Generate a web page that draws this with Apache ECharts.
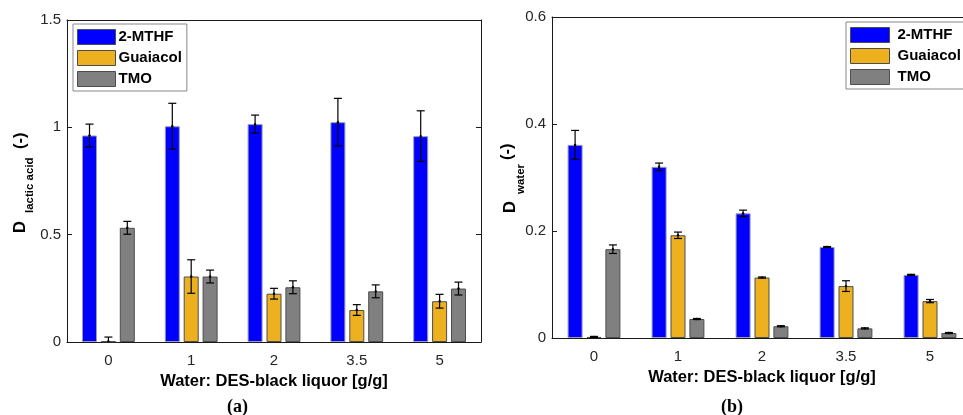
<!DOCTYPE html>
<html>
<head>
<meta charset="utf-8">
<script src="https://cdn.jsdelivr.net/npm/echarts@6/dist/echarts.min.js"></script>
<style>html,body{margin:0;padding:0;background:#fff}#c{width:963px;height:415px}</style>
</head>
<body>
<div id="c"></div>
<script>
const categories = ['0', '1', '2', '3.5', '5'];
const seriesNames = ['2-MTHF', 'Guaiacol', 'TMO'];

// (a) D lactic acid
const mthfA = [0.962, 1.005, 1.015, 1.024, 0.959];
const mthfAErr = [0.053, 0.107, 0.042, 0.111, 0.118];
const guaA = [0.003, 0.305, 0.225, 0.149, 0.190];
const guaAErr = [0.020, 0.078, 0.025, 0.025, 0.032];
const tmoA = [0.532, 0.305, 0.255, 0.236, 0.249];
const tmoAErr = [0.030, 0.030, 0.030, 0.030, 0.030];

// (b) D water
const mthfB = [0.361, 0.320, 0.233, 0.170, 0.118];
const mthfBErr = [0.027, 0.007, 0.006, 0.001, 0.001];
const guaB = [0.002, 0.192, 0.113, 0.097, 0.069];
const guaBErr = [0.001, 0.006, 0.001, 0.010, 0.003];
const tmoB = [0.166, 0.0355, 0.022, 0.018, 0.0093];
const tmoBErr = [0.008, 0.001, 0.001, 0.001, 0.001];

const yTicksA = {min: 0, max: 1.5, interval: 0.5};
const yTicksB = {min: 0, max: 0.6, interval: 0.2};

const colors = ['#0000ff', '#edb120', '#808080'];
const borders = ['#9a9ab4', '#4d4d4d', '#4d4d4d'];
const BAR_W = 15, BAR_GAP = 0.26;
const FONT = '"Liberation Sans", Arial, sans-serif';
const AX = '#1a1a1a';

function errData(vals, errs, k) {
  return vals.map((v, i) => [i, v, errs[i], k]);
}
function renderErr(params, api) {
  const i = api.value(0), v = api.value(1), e = api.value(2), k = api.value(3);
  const dx = (k - 1) * BAR_W * (1 + BAR_GAP);
  const t = api.coord([i, v + e]);
  const b = api.coord([i, v - e]);
  const c = api.coord([i, v]);
  const x = t[0] + dx, cap = 4;
  const st = {stroke: '#000', lineWidth: 1.2, fill: null};
  return {type: 'group', children: [
    {type: 'line', shape: {x1: x, y1: t[1], x2: x, y2: b[1]}, style: st},
    {type: 'line', shape: {x1: x - cap, y1: t[1], x2: x + cap, y2: t[1]}, style: st},
    {type: 'line', shape: {x1: x - cap, y1: b[1], x2: x + cap, y2: b[1]}, style: st},
    {type: 'circle', shape: {cx: x, cy: c[1], r: 1.2}, style: {fill: '#000'}}
  ]};
}

function axesFor(g, ticks) {
  const xb = {
    type: 'category', gridIndex: g, data: categories, position: 'bottom',
    axisLine: {onZero: false, lineStyle: {color: AX, width: 1}},
    axisTick: {inside: true, alignWithLabel: true, length: 5, lineStyle: {color: AX}},
    axisLabel: {color: '#262626', fontSize: 15, fontFamily: FONT, margin: 11},
    name: 'Water: DES-black liquor [g/g]', nameLocation: 'middle', nameGap: 28,
    nameTextStyle: {color: '#000', fontSize: 16.5, fontWeight: 'bold', fontFamily: FONT}
  };
  const xt = {
    type: 'category', gridIndex: g, data: categories, position: 'top',
    axisLine: {onZero: false, lineStyle: {color: AX, width: 1}},
    axisTick: {inside: true, alignWithLabel: true, length: 5, lineStyle: {color: AX}},
    axisLabel: {show: false}
  };
  const yl = {
    type: 'value', gridIndex: g, position: 'left', min: ticks.min, max: ticks.max, interval: ticks.interval,
    axisLine: {show: true, onZero: false, lineStyle: {color: AX, width: 1}},
    axisTick: {show: true, inside: true, length: 5, lineStyle: {color: AX}},
    axisLabel: {color: '#262626', fontSize: 15, fontFamily: FONT, margin: 6},
    splitLine: {show: false}
  };
  const yr = {
    type: 'value', gridIndex: g, position: 'right', min: ticks.min, max: ticks.max, interval: ticks.interval,
    axisLine: {show: true, onZero: false, lineStyle: {color: AX, width: 1}},
    axisTick: {show: true, inside: true, length: 5, lineStyle: {color: AX}},
    axisLabel: {show: false}, splitLine: {show: false}
  };
  return {x: [xb, xt], y: [yl, yr]};
}

const axA = axesFor(0, yTicksA);
const axB = axesFor(1, yTicksB);

function barSeries(name, data, k, xi, yi) {
  return {
    type: 'bar', name: name, data: data, xAxisIndex: xi, yAxisIndex: yi,
    barWidth: BAR_W, barGap: (BAR_GAP * 100) + '%',
    itemStyle: {color: colors[k], borderColor: borders[k], borderWidth: 1},
    emphasis: {disabled: true}, animation: false
  };
}
function errSeries(vals, errs, k, xi, yi) {
  return {type: 'custom', data: errData(vals, errs, k), xAxisIndex: xi, yAxisIndex: yi,
    encode: {x: 0, y: 1}, renderItem: renderErr, clip: true, z: 5, animation: false, silent: true};
}

function legendAt(left, top, iw, textPad, padRight) {
  return {
    orient: 'vertical', left: left, top: top, data: seriesNames,
    itemWidth: iw, itemHeight: 15, itemGap: 5, icon: 'rect',
    padding: [5, padRight, 4, 4], backgroundColor: '#fff', borderColor: '#888', borderWidth: 1,
    textStyle: {fontSize: 15, fontWeight: 'bold', color: '#000', fontFamily: FONT, padding: [0, 0, 0, textPad]},
    itemStyle: {borderColor: '#4d4d4d', borderWidth: 1},
    selectedMode: false
  };
}

// Rotated y-axis titles (D with subscript, as in the original)
const ROT = Math.PI / 2;
function yTitle(parts) {
  return parts.map(p => ({
    type: 'text', x: p.x, y: p.y, rotation: ROT, silent: true,
    style: {text: p.t, font: 'bold ' + p.fs + 'px ' + FONT, fill: '#000', textAlign: 'left', textVerticalAlign: 'bottom'}
  }));
}
const titleA = yTitle([
  {t: 'D', fs: 16.5, x: 28.5, y: 233},
  {t: 'lactic acid', fs: 11.5, x: 35.5, y: 213},
  {t: '(-)', fs: 16.5, x: 28.5, y: 149}
]);
const titleB = yTitle([
  {t: 'D', fs: 16.5, x: 518.5, y: 213},
  {t: 'water', fs: 11.5, x: 526.5, y: 194},
  {t: '(-)', fs: 16.5, x: 515.5, y: 160}
]);

const option = {
  animation: false,
  backgroundColor: '#fff',
  grid: [
    {left: 67, top: 20, width: 414, height: 322, outerBoundsMode: 'none', containLabel: false},
    {left: 552, top: 17, width: 420, height: 321, outerBoundsMode: 'none', containLabel: false}
  ],
  xAxis: [axA.x[0], axA.x[1], axB.x[0], axB.x[1]],
  yAxis: [axA.y[0], axA.y[1], axB.y[0], axB.y[1]],
  legend: [legendAt(73, 24, 38, -2, 5), legendAt(846, 22, 39, 3, 14)],
  series: [
    barSeries(seriesNames[0], mthfA, 0, 0, 0),
    barSeries(seriesNames[1], guaA, 1, 0, 0),
    barSeries(seriesNames[2], tmoA, 2, 0, 0),
    errSeries(mthfA, mthfAErr, 0, 0, 0),
    errSeries(guaA, guaAErr, 1, 0, 0),
    errSeries(tmoA, tmoAErr, 2, 0, 0),
    barSeries(seriesNames[0], mthfB, 0, 2, 2),
    barSeries(seriesNames[1], guaB, 1, 2, 2),
    barSeries(seriesNames[2], tmoB, 2, 2, 2),
    errSeries(mthfB, mthfBErr, 0, 2, 2),
    errSeries(guaB, guaBErr, 1, 2, 2),
    errSeries(tmoB, tmoBErr, 2, 2, 2)
  ],
  graphic: [
    {type: 'text', left: 227, top: 398, style: {text: '(a)', font: 'bold 18px "Liberation Serif", "Times New Roman", serif', fill: '#000'}},
    {type: 'text', left: 721, top: 398, style: {text: '(b)', font: 'bold 18px "Liberation Serif", "Times New Roman", serif', fill: '#000'}}
  ].concat(titleA, titleB)
};

const chart = echarts.init(document.getElementById('c'), null, {renderer: 'canvas'});
chart.setOption(option);
</script>
</body>
</html>
